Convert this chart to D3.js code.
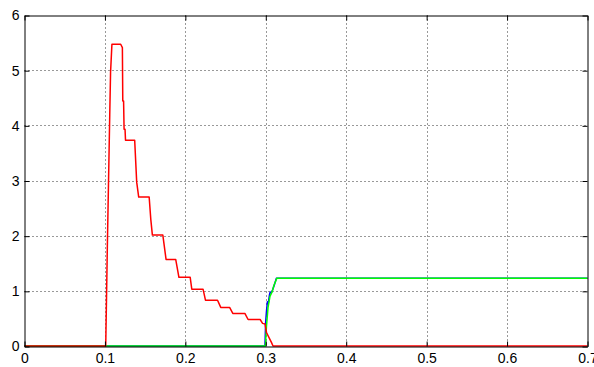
<!DOCTYPE html>
<html><head><meta charset="utf-8">
<script src="https://cdn.jsdelivr.net/npm/d3@7"></script>
<style>
html,body{margin:0;padding:0;background:#fff;overflow:hidden}
svg{display:block}
</style></head>
<body>
<svg id="c" width="594" height="367"></svg>
<script>
const xTicks = [0, 0.1, 0.2, 0.3, 0.4, 0.5, 0.6, 0.7];
const yTicks = [0, 1, 2, 3, 4, 5, 6];

const redX = [0, 0.101, 0.103, 0.106, 0.107, 0.1087, 0.1196, 0.1217, 0.1222, 0.1232, 0.1238, 0.125, 0.1256, 0.137, 0.1395, 0.142, 0.155, 0.157, 0.159, 0.172, 0.176, 0.188, 0.192, 0.206, 0.208, 0.222, 0.225, 0.240, 0.244, 0.255, 0.259, 0.274, 0.278, 0.293, 0.296, 0.299, 0.301, 0.307, 0.309, 0.7];
const redY = [0, 0, 1.8, 4.2, 4.96, 5.47, 5.47, 5.41, 4.44, 4.44, 3.93, 3.93, 3.73, 3.73, 2.97, 2.70, 2.70, 2.30, 2.01, 2.01, 1.57, 1.57, 1.245, 1.245, 1.03, 1.03, 0.83, 0.83, 0.70, 0.70, 0.59, 0.59, 0.48, 0.48, 0.41, 0.40, 0.24, 0.065, 0, 0];

const greenX = [0, 0.2995, 0.3008, 0.3028, 0.3052, 0.3078, 0.3102, 0.3138, 0.7];
const greenY = [0, 0, 0.35, 0.70, 0.90, 0.98, 1.10, 1.23, 1.23];

const blueX = [0, 0.299, 0.2998, 0.3008, 0.302, 0.3032, 0.3045, 0.3055, 0.3068, 0.3085, 0.3105, 0.3132, 0.7];
const blueY = [0, 0, 0.42, 0.62, 0.80, 0.78, 0.92, 0.98, 0.96, 1.02, 1.10, 1.23, 1.23];

const FONT = "'Liberation Sans Narrow', 'Arial Narrow', 'Liberation Sans', Arial, sans-serif";

const svg = d3.select("#c");
const x = d3.scaleLinear().domain([0, 0.7]).range([24.5, 587.5]);
const y = d3.scaleLinear().domain([0, 6]).range([346.5, 15.5]);

// grid
const grid = svg.append("g").attr("stroke", "#333").attr("stroke-width", 1).attr("stroke-dasharray", "1,3");
grid.selectAll("line.v").data(xTicks.slice(1, -1)).join("line")
  .attr("x1", d => Math.round(x(d)) + 0.5).attr("x2", d => Math.round(x(d)) + 0.5)
  .attr("y1", y(6)).attr("y2", y(0));
grid.selectAll("line.h").data(yTicks.slice(1, -1)).join("line")
  .attr("y1", d => Math.round(y(d) - 0.5) + 0.5).attr("y2", d => Math.round(y(d) - 0.5) + 0.5)
  .attr("x1", x(0)).attr("x2", x(0.7));

// lines (blue under green, red on top)
const mk = (xs, ys) => xs.map((v, i) => [v, ys[i]]);
const line = d3.line().x(d => x(d[0])).y(d => y(d[1]) - 0.5);
const series = [
  {pts: mk(blueX, blueY), c: "#0000ff"},
  {pts: mk(greenX, greenY), c: "#00ff00"},
  {pts: mk(redX, redY), c: "#ff0000"}
];
svg.append("g").selectAll("path").data(series).join("path")
  .attr("d", d => line(d.pts)).attr("fill", "none")
  .attr("stroke", d => d.c).attr("stroke-width", 1.5).attr("stroke-linejoin", "round");

// axes (box with inward ticks, MATLAB-like)
const ax = svg.append("g");
const axB = d3.axisBottom(x).tickValues(xTicks).tickSizeInner(-5).tickSizeOuter(0).tickPadding(7).tickFormat(d3.format("~g"));
const axL = d3.axisLeft(y).tickValues(yTicks).tickSizeInner(-5).tickSizeOuter(0).tickPadding(5).tickFormat(d3.format("d"));
const axT = d3.axisTop(x).tickValues(xTicks).tickSizeInner(-5).tickSizeOuter(0).tickFormat("");
const axR = d3.axisRight(y).tickValues(yTicks).tickSizeInner(-5).tickSizeOuter(0).tickFormat("");
ax.append("g").attr("transform", `translate(0,${y(0)})`).call(axB);
ax.append("g").attr("transform", `translate(${x(0)},0)`).call(axL);
ax.append("g").attr("transform", `translate(0,${y(6)})`).call(axT);
ax.append("g").attr("transform", `translate(${x(0.7)},0)`).call(axR);
ax.selectAll(".domain").attr("stroke", "#000").attr("stroke-width", 1);
ax.selectAll(".tick line").attr("stroke", "#000");
ax.selectAll("text").attr("font-family", FONT).attr("font-size", 14).attr("fill", "#000");
</script>
</body></html>
